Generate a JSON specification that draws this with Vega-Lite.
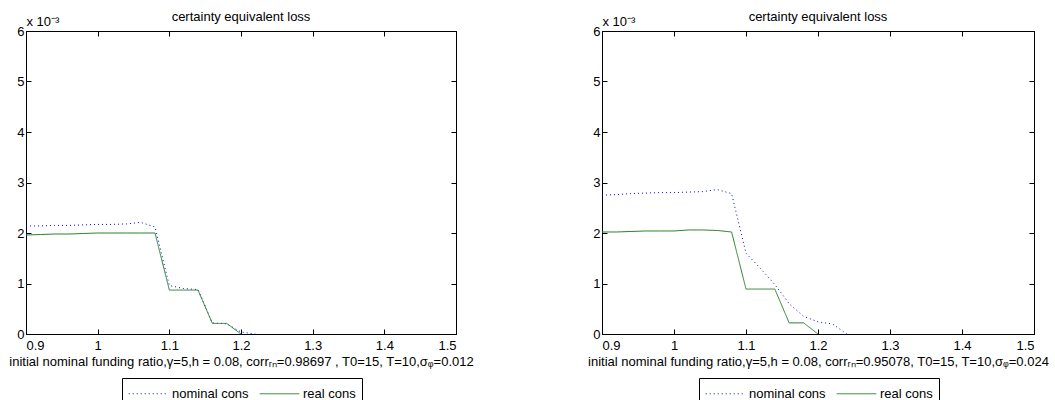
{
  "$schema": "https://vega.github.io/schema/vega-lite/v6.json",
  "background": "white",
  "padding": {"left": 8, "top": 10, "right": 0, "bottom": 0},
  "bounds": "flush",
  "spacing": 146,
  "config": {
    "font": "Liberation Sans",
    "view": {"stroke": "#000", "strokeWidth": 1},
    "axis": {
      "grid": false,
      "domainColor": "#000",
      "tickColor": "#000",
      "labelColor": "#000",
      "titleColor": "#000",
      "labelFontSize": 13,
      "titleFontSize": 13,
      "titleFontWeight": "normal",
      "tickSize": -5
    },
    "axisX": {"labelPadding": 10},
    "axisY": {"labelPadding": 7},
    "title": {"fontSize": 13, "fontWeight": "normal", "color": "#000", "offset": -9},
    "legend": {
      "strokeColor": "#000",
      "fillColor": "#fff",
      "padding": 6,
      "cornerRadius": 0,
      "symbolType": "M-2.2,0H2.2",
      "symbolSize": 324,
      "symbolOffset": 11,
      "symbolStrokeWidth": 1,
      "labelFontSize": 13,
      "labelColor": "#000",
      "labelOffset": 14,
      "columnPadding": 8
    }
  },
  "datasets": {
    "left": [
      {"series": "nominal cons", "x": 0.9, "y": 0.00214},
      {"series": "nominal cons", "x": 0.92, "y": 0.00214},
      {"series": "nominal cons", "x": 0.94, "y": 0.00215},
      {"series": "nominal cons", "x": 0.96, "y": 0.00215},
      {"series": "nominal cons", "x": 0.98, "y": 0.00216},
      {"series": "nominal cons", "x": 1.0, "y": 0.00217},
      {"series": "nominal cons", "x": 1.02, "y": 0.00217},
      {"series": "nominal cons", "x": 1.04, "y": 0.00218},
      {"series": "nominal cons", "x": 1.06, "y": 0.00221},
      {"series": "nominal cons", "x": 1.08, "y": 0.00212},
      {"series": "nominal cons", "x": 1.1, "y": 0.00096},
      {"series": "nominal cons", "x": 1.12, "y": 0.0009},
      {"series": "nominal cons", "x": 1.14, "y": 0.00088},
      {"series": "nominal cons", "x": 1.16, "y": 0.00022},
      {"series": "nominal cons", "x": 1.18, "y": 0.0002},
      {"series": "nominal cons", "x": 1.2, "y": 0.00004},
      {"series": "nominal cons", "x": 1.22, "y": 0.0},
      {"series": "real cons", "x": 0.9, "y": 0.00196},
      {"series": "real cons", "x": 0.92, "y": 0.00197},
      {"series": "real cons", "x": 0.94, "y": 0.00198},
      {"series": "real cons", "x": 0.96, "y": 0.00198},
      {"series": "real cons", "x": 0.98, "y": 0.00199},
      {"series": "real cons", "x": 1.0, "y": 0.002},
      {"series": "real cons", "x": 1.02, "y": 0.002},
      {"series": "real cons", "x": 1.04, "y": 0.002},
      {"series": "real cons", "x": 1.06, "y": 0.002},
      {"series": "real cons", "x": 1.08, "y": 0.002},
      {"series": "real cons", "x": 1.1, "y": 0.00087},
      {"series": "real cons", "x": 1.12, "y": 0.00087},
      {"series": "real cons", "x": 1.14, "y": 0.00087},
      {"series": "real cons", "x": 1.16, "y": 0.00021},
      {"series": "real cons", "x": 1.18, "y": 0.00021},
      {"series": "real cons", "x": 1.2, "y": 0.0}
    ],
    "right": [
      {"series": "nominal cons", "x": 0.9, "y": 0.00275},
      {"series": "nominal cons", "x": 0.92, "y": 0.00276},
      {"series": "nominal cons", "x": 0.94, "y": 0.00278},
      {"series": "nominal cons", "x": 0.96, "y": 0.00279},
      {"series": "nominal cons", "x": 0.98, "y": 0.0028},
      {"series": "nominal cons", "x": 1.0, "y": 0.0028},
      {"series": "nominal cons", "x": 1.02, "y": 0.00281},
      {"series": "nominal cons", "x": 1.04, "y": 0.00282},
      {"series": "nominal cons", "x": 1.06, "y": 0.00286},
      {"series": "nominal cons", "x": 1.08, "y": 0.00278},
      {"series": "nominal cons", "x": 1.1, "y": 0.0016},
      {"series": "nominal cons", "x": 1.12, "y": 0.0013},
      {"series": "nominal cons", "x": 1.14, "y": 0.00098},
      {"series": "nominal cons", "x": 1.16, "y": 0.0006},
      {"series": "nominal cons", "x": 1.18, "y": 0.00035},
      {"series": "nominal cons", "x": 1.2, "y": 0.00024},
      {"series": "nominal cons", "x": 1.22, "y": 0.0002},
      {"series": "nominal cons", "x": 1.24, "y": 0.0},
      {"series": "real cons", "x": 0.9, "y": 0.00202},
      {"series": "real cons", "x": 0.92, "y": 0.00202},
      {"series": "real cons", "x": 0.94, "y": 0.00203},
      {"series": "real cons", "x": 0.96, "y": 0.00204},
      {"series": "real cons", "x": 0.98, "y": 0.00204},
      {"series": "real cons", "x": 1.0, "y": 0.00204},
      {"series": "real cons", "x": 1.02, "y": 0.00206},
      {"series": "real cons", "x": 1.04, "y": 0.00206},
      {"series": "real cons", "x": 1.06, "y": 0.00205},
      {"series": "real cons", "x": 1.08, "y": 0.00202},
      {"series": "real cons", "x": 1.1, "y": 0.00089},
      {"series": "real cons", "x": 1.12, "y": 0.00089},
      {"series": "real cons", "x": 1.14, "y": 0.00089},
      {"series": "real cons", "x": 1.16, "y": 0.00022},
      {"series": "real cons", "x": 1.18, "y": 0.00022},
      {"series": "real cons", "x": 1.2, "y": 0.0}
    ]
  },
  "resolve": {
    "scale": {"color": "independent", "strokeDash": "independent"},
    "legend": {"color": "independent", "strokeDash": "independent"}
  },
  "hconcat": [
    {
      "width": 430,
      "height": 303,
      "title": "certainty equivalent loss",
      "data": {"name": "left"},
      "layer": [
        {
          "mark": {"type": "line", "strokeWidth": 1},
          "encoding": {
            "x": {"field": "x", "type": "quantitative", "scale": {"domain": [0.9, 1.5], "nice": false, "zero": false},
              "axis": {"orient": "bottom", "values": [0.9, 1, 1.1, 1.2, 1.3, 1.4, 1.5], "labelExpr": "'' + datum.value", "title": "initial nominal funding ratio,γ=5,h = 0.08, corrᵣₙ=0.98697 , T0=15, T=10,σᵩ=0.012", "titlePadding": 3}},
            "y": {"field": "y", "type": "quantitative", "scale": {"domain": [0, 0.006], "nice": false},
              "axis": {"orient": "left", "values": [0, 0.001, 0.002, 0.003, 0.004, 0.005, 0.006], "labelExpr": "'' + round(datum.value * 1000)", "title": "x 10⁻³", "titleAngle": 0, "titleX": 0, "titleY": -6, "titleAlign": "left", "titleBaseline": "alphabetic"}},
            "color": {"field": "series", "type": "nominal", "scale": {"domain": ["nominal cons", "real cons"], "range": ["#0000ff", "#2a7f2a"]},
              "legend": {"orient": "none", "legendX": 96, "legendY": 347, "direction": "horizontal", "title": null}},
            "strokeDash": {"field": "series", "type": "nominal", "scale": {"domain": ["nominal cons", "real cons"], "range": [[1, 3], [1, 0]]},
              "legend": {"orient": "none", "legendX": 96, "legendY": 347, "direction": "horizontal", "title": null}}
          }
        },
        {
          "mark": {"type": "line", "opacity": 0},
          "encoding": {
            "x": {"field": "x", "type": "quantitative", "scale": {"domain": [0.9, 1.5], "nice": false, "zero": false},
              "axis": {"orient": "top", "values": [0.9, 1, 1.1, 1.2, 1.3, 1.4, 1.5], "labels": false, "title": null}},
            "y": {"field": "y", "type": "quantitative", "scale": {"domain": [0, 0.006], "nice": false},
              "axis": {"orient": "right", "values": [0, 0.001, 0.002, 0.003, 0.004, 0.005, 0.006], "labels": false, "title": null}},
            "detail": {"field": "series"}
          }
        }
      ],
      "resolve": {"axis": {"x": "independent", "y": "independent"}}
    },
    {
      "width": 432,
      "height": 303,
      "title": "certainty equivalent loss",
      "data": {"name": "right"},
      "layer": [
        {
          "mark": {"type": "line", "strokeWidth": 1},
          "encoding": {
            "x": {"field": "x", "type": "quantitative", "scale": {"domain": [0.9, 1.5], "nice": false, "zero": false},
              "axis": {"orient": "bottom", "values": [0.9, 1, 1.1, 1.2, 1.3, 1.4, 1.5], "labelExpr": "'' + datum.value", "title": "initial nominal funding ratio,γ=5,h = 0.08, corrᵣₙ=0.95078, T0=15, T=10,σᵩ=0.024", "titlePadding": 3}},
            "y": {"field": "y", "type": "quantitative", "scale": {"domain": [0, 0.006], "nice": false},
              "axis": {"orient": "left", "values": [0, 0.001, 0.002, 0.003, 0.004, 0.005, 0.006], "labelExpr": "'' + round(datum.value * 1000)", "title": "x 10⁻³", "titleAngle": 0, "titleX": 0, "titleY": -6, "titleAlign": "left", "titleBaseline": "alphabetic"}},
            "color": {"field": "series", "type": "nominal", "scale": {"domain": ["nominal cons", "real cons"], "range": ["#0000ff", "#2a7f2a"]},
              "legend": {"orient": "none", "legendX": 97, "legendY": 347, "direction": "horizontal", "title": null}},
            "strokeDash": {"field": "series", "type": "nominal", "scale": {"domain": ["nominal cons", "real cons"], "range": [[1, 3], [1, 0]]},
              "legend": {"orient": "none", "legendX": 97, "legendY": 347, "direction": "horizontal", "title": null}}
          }
        },
        {
          "mark": {"type": "line", "opacity": 0},
          "encoding": {
            "x": {"field": "x", "type": "quantitative", "scale": {"domain": [0.9, 1.5], "nice": false, "zero": false},
              "axis": {"orient": "top", "values": [0.9, 1, 1.1, 1.2, 1.3, 1.4, 1.5], "labels": false, "title": null}},
            "y": {"field": "y", "type": "quantitative", "scale": {"domain": [0, 0.006], "nice": false},
              "axis": {"orient": "right", "values": [0, 0.001, 0.002, 0.003, 0.004, 0.005, 0.006], "labels": false, "title": null}},
            "detail": {"field": "series"}
          }
        }
      ],
      "resolve": {"axis": {"x": "independent", "y": "independent"}}
    }
  ]
}
